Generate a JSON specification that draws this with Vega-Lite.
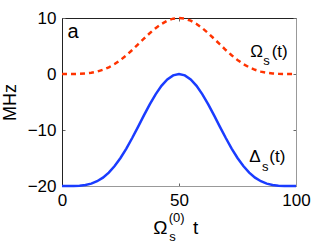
{
  "$schema": "https://vega.github.io/schema/vega-lite/v6.json",
  "width": 234,
  "height": 168,
  "autosize": "none",
  "padding": {"left": 62, "top": 18, "right": 31, "bottom": 60},
  "background": "white",
  "config": {
    "view": {"stroke": null},
    "font": "Liberation Sans",
    "axis": {"grid": false, "labelFont": "Liberation Sans", "titleFont": "Liberation Sans", "labelFontSize": 17, "titleFontSize": 18, "titleFontWeight": "normal", "labelColor": "#000", "titleColor": "#000", "tickColor": "#666", "tickSize": -3, "domainColor": "#222", "domainWidth": 1}
  },
  "datasets": {
    "curves": [
      {"t": 0, "O": 0, "D": -20},
      {"t": 2.5, "O": 0.0004, "D": -20},
      {"t": 5, "O": 0.006, "D": -19.99},
      {"t": 7.5, "O": 0.03, "D": -19.94},
      {"t": 10, "O": 0.09, "D": -19.82},
      {"t": 12.5, "O": 0.21, "D": -19.57},
      {"t": 15, "O": 0.42, "D": -19.15},
      {"t": 17.5, "O": 0.75, "D": -18.51},
      {"t": 20, "O": 1.19, "D": -17.61},
      {"t": 22.5, "O": 1.78, "D": -16.44},
      {"t": 25, "O": 2.5, "D": -15},
      {"t": 27.5, "O": 3.34, "D": -13.31},
      {"t": 30, "O": 4.28, "D": -11.43},
      {"t": 32.5, "O": 5.29, "D": -9.43},
      {"t": 35, "O": 6.3, "D": -7.39},
      {"t": 37.5, "O": 7.29, "D": -5.43},
      {"t": 40, "O": 8.18, "D": -3.64},
      {"t": 42.5, "O": 8.94, "D": -2.12},
      {"t": 45, "O": 9.52, "D": -0.97},
      {"t": 47.5, "O": 9.88, "D": -0.25},
      {"t": 50, "O": 10, "D": 0},
      {"t": 52.5, "O": 9.88, "D": -0.25},
      {"t": 55, "O": 9.52, "D": -0.97},
      {"t": 57.5, "O": 8.94, "D": -2.12},
      {"t": 60, "O": 8.18, "D": -3.64},
      {"t": 62.5, "O": 7.29, "D": -5.43},
      {"t": 65, "O": 6.3, "D": -7.39},
      {"t": 67.5, "O": 5.29, "D": -9.43},
      {"t": 70, "O": 4.28, "D": -11.43},
      {"t": 72.5, "O": 3.34, "D": -13.31},
      {"t": 75, "O": 2.5, "D": -15},
      {"t": 77.5, "O": 1.78, "D": -16.44},
      {"t": 80, "O": 1.19, "D": -17.61},
      {"t": 82.5, "O": 0.75, "D": -18.51},
      {"t": 85, "O": 0.42, "D": -19.15},
      {"t": 87.5, "O": 0.21, "D": -19.57},
      {"t": 90, "O": 0.09, "D": -19.82},
      {"t": 92.5, "O": 0.03, "D": -19.94},
      {"t": 95, "O": 0.006, "D": -19.99},
      {"t": 97.5, "O": 0.0004, "D": -20},
      {"t": 100, "O": 0, "D": -20}
    ],
    "labels": [
      {"txt": "a", "x": 2.3, "y": 6.5, "size": 20},
      {"txt": "Ω", "x": 80.4, "y": 3.1, "size": 17},
      {"txt": "s", "x": 86.0, "y": 1.6, "size": 13},
      {"txt": "(t)", "x": 89.6, "y": 3.1, "size": 17},
      {"txt": "Δ", "x": 80.0, "y": -15.8, "size": 17},
      {"txt": "s", "x": 85.5, "y": -17.4, "size": 13},
      {"txt": "(t)", "x": 88.6, "y": -15.8, "size": 17},
      {"txt": "Ω", "x": 39.0, "y": -28.5, "size": 19},
      {"txt": "(0)", "x": 45.6, "y": -26.5, "size": 13},
      {"txt": "s", "x": 45.8, "y": -29.8, "size": 13},
      {"txt": "t", "x": 56.0, "y": -28.5, "size": 19}
    ]
  },
  "resolve": {"axis": {"x": "independent", "y": "independent"}},
  "layer": [
    {
      "data": {"name": "curves"},
      "mark": {"type": "line", "color": "#ff3300", "strokeWidth": 2.5, "strokeDash": [5, 4]},
      "encoding": {
        "x": {"field": "t", "type": "quantitative", "scale": {"domain": [0, 100], "nice": false}, "axis": {"orient": "bottom", "values": [0, 50, 100], "title": null, "labelPadding": 9, "domainColor": "#999", "labelFlush": false}},
        "y": {"field": "O", "type": "quantitative", "scale": {"domain": [-20, 10], "nice": false}, "axis": {"orient": "left", "values": [-20, -10, 0, 10], "title": "MHz", "titlePadding": 8, "labelPadding": 9, "labelFlush": false}}
      }
    },
    {
      "data": {"name": "curves"},
      "mark": {"type": "line", "color": "#1a3cff", "strokeWidth": 2.5},
      "encoding": {
        "x": {"field": "t", "type": "quantitative", "axis": {"orient": "top", "values": [0, 50, 100], "labels": false, "title": null}},
        "y": {"field": "D", "type": "quantitative", "axis": {"orient": "right", "values": [-20, -10, 0, 10], "labels": false, "title": null, "domainColor": "#999"}}
      }
    },
    {
      "data": {"name": "labels"},
      "mark": {"type": "text", "align": "left", "baseline": "alphabetic", "font": "Liberation Sans", "color": "#000"},
      "encoding": {
        "x": {"field": "x", "type": "quantitative", "axis": null},
        "y": {"field": "y", "type": "quantitative", "axis": null},
        "text": {"field": "txt"},
        "size": {"field": "size", "type": "quantitative", "scale": null, "legend": null}
      }
    }
  ]
}
